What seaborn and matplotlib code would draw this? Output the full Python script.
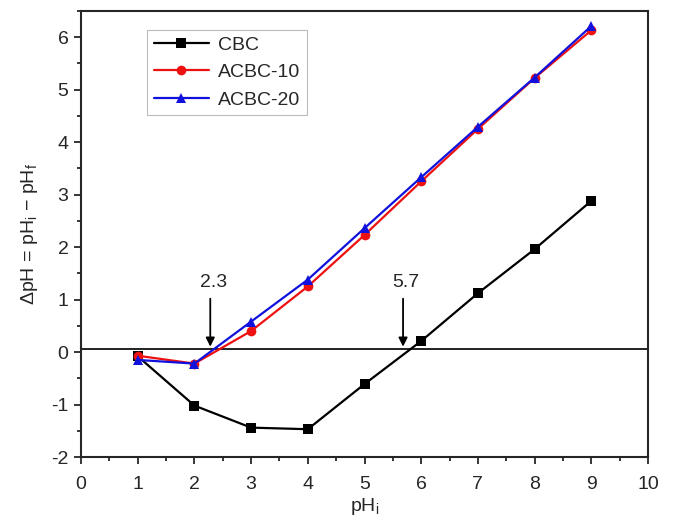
import numpy as np
import pandas as pd
import matplotlib
matplotlib.use("Agg")
import matplotlib.pyplot as plt
import seaborn as sns
from matplotlib.ticker import MultipleLocator

ph_i = [1, 2, 3, 4, 5, 6, 7, 8, 9]
cbc = [-0.08, -1.02, -1.44, -1.47, -0.61, 0.21, 1.12, 1.96, 2.88]
acbc10 = [-0.07, -0.22, 0.40, 1.25, 2.23, 3.25, 4.25, 5.22, 6.13]
acbc20 = [-0.15, -0.22, 0.58, 1.38, 2.36, 3.33, 4.29, 5.23, 6.21]
series_names = ["CBC", "ACBC-10", "ACBC-20"]
pzc_values = [2.3, 5.7]
pzc_labels = ["2.3", "5.7"]

df = pd.DataFrame({
    "pHi": ph_i * 3,
    "dpH": cbc + acbc10 + acbc20,
    "sample": sum([[n] * len(ph_i) for n in series_names], []),
})

sns.set_style("ticks")
plt.rcParams["font.family"] = ["Liberation Sans", "DejaVu Sans"]
plt.rcParams["mathtext.fontset"] = "custom"
plt.rcParams["mathtext.rm"] = "Liberation Sans"
plt.rcParams["mathtext.it"] = "Liberation Sans"
plt.rcParams["axes.unicode_minus"] = False

fig = plt.figure(figsize=(6.75, 5.17), dpi=100)
ax = fig.add_axes([0.12, 0.116, 0.84, 0.863])

palette = {"CBC": "black", "ACBC-10": "#ee1111", "ACBC-20": "#1111dd"}
markers = {"CBC": "s", "ACBC-10": "o", "ACBC-20": "^"}
sns.lineplot(data=df, x="pHi", y="dpH", hue="sample", style="sample",
             hue_order=series_names, style_order=series_names,
             palette=palette, markers=markers, dashes=False,
             markersize=7, markeredgewidth=0, linewidth=1.6, ax=ax)

ax.axhline(0.05, color="#222222", linewidth=1.4, zorder=1)

for v, lab in zip(pzc_values, pzc_labels):
    ax.annotate("", xy=(v - 0.02, 0.05), xytext=(v - 0.02, 1.07),
                arrowprops=dict(arrowstyle="-|>", color="black", lw=1.3,
                                mutation_scale=13))
    ax.text(v + 0.03, 1.32, lab, ha="center", va="center", fontsize=14)

ax.set_xlim(0, 10)
ax.set_ylim(-2, 6.5)
ax.xaxis.set_major_locator(MultipleLocator(1))
ax.xaxis.set_minor_locator(MultipleLocator(0.5))
ax.yaxis.set_major_locator(MultipleLocator(1))
ax.yaxis.set_minor_locator(MultipleLocator(0.5))
ax.tick_params(which="major", direction="out", length=5, width=1.3, labelsize=14, pad=4)
ax.tick_params(axis="x", which="major", pad=9)
ax.tick_params(which="minor", direction="out", length=3, width=1.3)
for s in ax.spines.values():
    s.set_linewidth(1.5)
ax.set_xlabel("pH$_\\mathregular{i}$", fontsize=14, labelpad=2)
ax.set_ylabel("ΔpH = pH$_\\mathregular{i}$ − pH$_\\mathregular{f}$", fontsize=14, labelpad=8)

leg = ax.legend(loc="upper left", bbox_to_anchor=(0.1, 0.98), fontsize=14,
                frameon=True, fancybox=False, edgecolor="#aaaaaa",
                handlelength=2.8, handletextpad=0.5, borderpad=0.35, labelspacing=0.5)
leg.get_frame().set_linewidth(0.8)

fig.savefig("out.png", dpi=100)
